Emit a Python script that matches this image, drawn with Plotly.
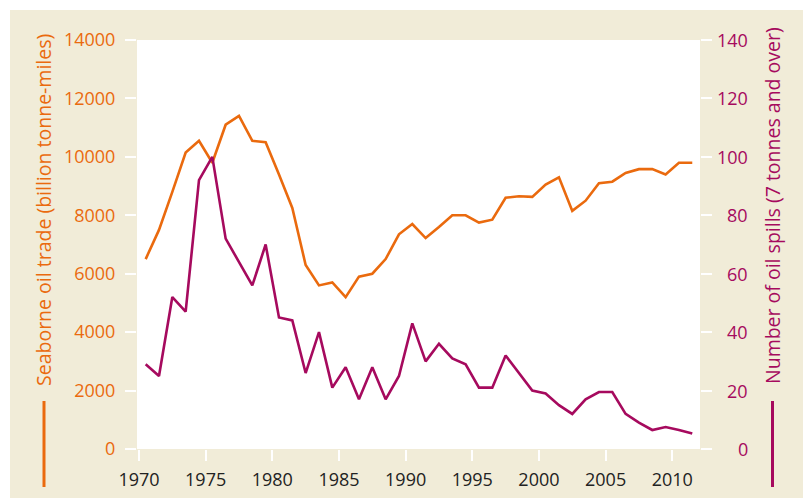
import plotly.graph_objects as go

# Seaborne oil trade vs. number of oil spills, 1970-2011
years = list(range(1970, 2012))

oil_trade = [6500, 7500, 8800, 10150, 10550, 9800, 11100, 11400, 10550, 10500,
             9400, 8250, 6300, 5600, 5700, 5200, 5900, 6000, 6500, 7350,
             7700, 7220, 7600, 8000, 8000, 7750, 7850, 8600, 8650, 8630,
             9050, 9300, 8150, 8500, 9100, 9150, 9450, 9580, 9580, 9400,
             9800, 9800]

oil_spills = [29, 25, 52, 47, 92, 100, 72, 64, 56, 70,
              45, 44, 26, 40, 21, 28, 17, 28, 17, 25,
              43, 30, 36, 31, 29, 21, 21, 32, 26, 20,
              19, 15, 12, 17, 19.5, 19.5, 12, 9, 6.5, 7.5,
              6.5, 5.3]

x_ticks = [1970, 1975, 1980, 1985, 1990, 1995, 2000, 2005, 2010]
left_ticks = [0, 2000, 4000, 6000, 8000, 10000, 12000, 14000]
right_ticks = [0, 20, 40, 60, 80, 100, 120, 140]

ORANGE = "#EA6A0E"
PURPLE = "#A60A5E"
BEIGE = "#F1ECD8"
FONT = "Open Sans"

W, H = 803, 498
ML, MR, MT, MB = 137, 103, 40, 49
PW, PH = W - ML - MR, H - MT - MB


def px(x):
    return (x - ML) / PW


def py(y):
    return (H - MB - y) / PH


# values plotted at mid-year
xs = [y + 0.5 for y in years]

fig = go.Figure()
fig.add_trace(go.Scatter(x=xs, y=oil_trade, mode="lines",
                         line=dict(color=ORANGE, width=2.6), yaxis="y",
                         showlegend=False, hoverinfo="skip"))
fig.add_trace(go.Scatter(x=xs, y=oil_spills, mode="lines",
                         line=dict(color=PURPLE, width=2.6), yaxis="y2",
                         showlegend=False, hoverinfo="skip"))

shapes = [
    # beige panel and white plotting field
    dict(type="rect", xref="paper", yref="paper", x0=px(10), x1=px(W + 5),
         y0=py(H + 5), y1=py(10), fillcolor=BEIGE, line=dict(width=0), layer="below"),
    dict(type="rect", xref="paper", yref="paper", x0=0, x1=1, y0=0, y1=1,
         fillcolor="white", line=dict(width=0), layer="below"),
    # key lines under the axis titles
    dict(type="line", xref="paper", yref="paper", x0=px(44), x1=px(44),
         y0=py(401), y1=py(487), line=dict(color=ORANGE, width=3)),
    dict(type="line", xref="paper", yref="paper", x0=px(772.5), x1=px(772.5),
         y0=py(401), y1=py(487), line=dict(color=PURPLE, width=3)),
]

annotations = [
    dict(text="Seaborne oil trade (billion tonne-miles)", xref="paper", yref="paper",
         x=px(43), y=py(210), textangle=-90, showarrow=False,
         xanchor="center", yanchor="middle", font=dict(family=FONT, size=19.5, color=ORANGE)),
    dict(text="Number of oil spills (7 tonnes and over)", xref="paper", yref="paper",
         x=px(772), y=py(206), textangle=-90, showarrow=False,
         xanchor="center", yanchor="middle", font=dict(family=FONT, size=19.5, color=PURPLE)),
]
# right-hand axis labels, right aligned
for v in right_ticks:
    annotations.append(dict(text=str(v), xref="paper", yref="y2", x=px(750), y=v,
                            xanchor="right", yanchor="middle", showarrow=False,
                            font=dict(family=FONT, size=18, color=PURPLE)))

tick_common = dict(ticks="outside", ticklen=11, tickwidth=2, tickcolor="white",
                   showgrid=False, zeroline=False, showline=False, automargin=False)

fig.update_layout(
    width=W, height=H,
    margin=dict(l=ML, r=MR, t=MT, b=MB, pad=0, autoexpand=False),
    paper_bgcolor="white", plot_bgcolor="rgba(0,0,0,0)",
    font=dict(family=FONT),
    xaxis=dict(range=[1969.85, 2012.08], tickvals=x_ticks,
               tickfont=dict(family=FONT, size=18, color="#222222"),
               ticklabelstandoff=3, **tick_common),
    yaxis=dict(range=[0, 14000], tickvals=left_ticks, ticktext=[str(v) for v in left_ticks],
               tickfont=dict(family=FONT, size=18, color=ORANGE),
               ticklabelstandoff=6, **tick_common),
    yaxis2=dict(range=[0, 140], tickvals=right_ticks, overlaying="y", side="right",
                showticklabels=False, **tick_common),
    shapes=shapes,
    annotations=annotations,
)

fig.write_html("out.html")
